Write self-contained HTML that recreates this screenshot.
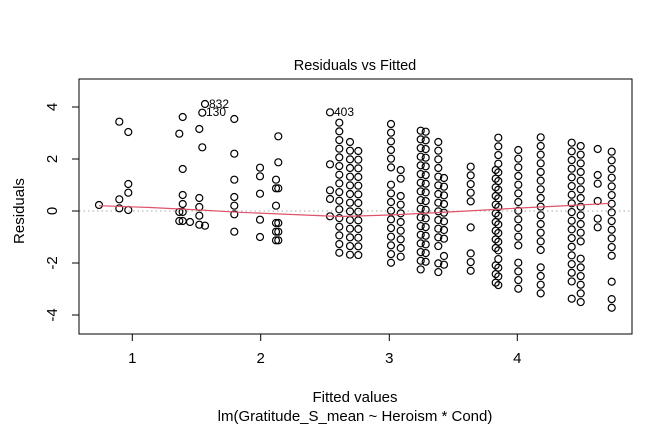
<!DOCTYPE html>
<html><head><meta charset="utf-8"><style>
html,body{margin:0;padding:0;background:#fff;}
svg{display:block;font-family:"Liberation Sans",Arial,sans-serif;}
</style></head><body>
<svg id="s" width="672" height="432" viewBox="0 0 672 432" xmlns="http://www.w3.org/2000/svg">
<rect x="0" y="0" width="672" height="432" fill="#fff"/>
<line x1="79" y1="211" x2="632" y2="211" stroke="#aaa" stroke-width="1" stroke-dasharray="1.5,3"/>
<g id="pts" fill="none" stroke="#000" stroke-width="1.2"></g>
<polyline fill="none" stroke="#df536b" stroke-width="1.2" points="99,205.7 150,207.5 200,210 240,212.3 280,214 340,216.5 390,215 430,213 467,211 520,208 570,205.5 610,203.3"/>
<rect x="79" y="79" width="553" height="255" fill="none" stroke="#000" stroke-width="1"/>
<g stroke="#000" stroke-width="1">
<line x1="132.3" y1="334" x2="132.3" y2="341"/><line x1="260.7" y1="334" x2="260.7" y2="341"/>
<line x1="389.3" y1="334" x2="389.3" y2="341"/><line x1="517.3" y1="334" x2="517.3" y2="341"/>
<line x1="79" y1="107" x2="72" y2="107"/><line x1="79" y1="159" x2="72" y2="159"/>
<line x1="79" y1="211" x2="72" y2="211"/><line x1="79" y1="263" x2="72" y2="263"/>
<line x1="79" y1="315" x2="72" y2="315"/>
</g>
<g font-size="15" text-anchor="middle" fill="#000">
<text x="132.3" y="363">1</text><text x="260.7" y="363">2</text>
<text x="389.3" y="363">3</text><text x="517.3" y="363">4</text>
<text transform="translate(57,107) rotate(-90)">4</text>
<text transform="translate(57,159) rotate(-90)">2</text>
<text transform="translate(57,211) rotate(-90)">0</text>
<text transform="translate(57,263) rotate(-90)">-2</text>
<text transform="translate(57,315) rotate(-90)">-4</text>
<text x="355" y="402">Fitted values</text>
<text x="355" y="421">lm(Gratitude_S_mean ~ Heroism * Cond)</text>
<text transform="translate(24,211) rotate(-90)">Residuals</text>
<text x="355" y="70" font-size="14.5">Residuals vs Fitted</text>
</g>
<g font-size="12" fill="#000">
<text x="209" y="108">832</text><text x="206" y="116">130</text><text x="334" y="116">403</text>
</g>
</svg>
<script>
var g=document.getElementById('pts');
function c(x,y){var e=document.createElementNS('http://www.w3.org/2000/svg','circle');e.setAttribute('cx',x);e.setAttribute('cy',y);e.setAttribute('r',3.5);g.appendChild(e);}
var cols=[
[99,[205]],
[119.3,[121.7,199.3,208.3]],
[128.3,[132,184,192.7,210]],
[179.3,[133.7,212,221]],
[182.7,[117,169,195,204,212,221]],
[190,[222]],
[199.3,[129,198,207,215.7,224.7]],
[202.3,[112.7,147.3]],
[205,[104,225.7]],
[234.3,[119,153.7,179.7,197,205.7,214.3,231.7]],
[260,[167.7,176.3,193.7,219.7,237]],
[276,[179.7,188.3,205.7,223,231.7,240.3]],
[278.3,[136.3,162.3,188.3,223,231.7,240.3]],
[330,[112.3,164.3,190.3,199,216.3]]
];
cols.forEach(function(k){k[1].forEach(function(y){c(k[0],y);});});
function rng(x,a,b,skip){for(var y=a;y<=b+0.1;y+=8.67){var s=false;(skip||[]).forEach(function(r){if(y>r[0]&&y<r[1])s=true;});if(!s)c(x,y);}}
rng(339.3,122.7,253.3);
rng(350,142,256);
rng(358.3,151,257);
rng(391,124,264,[[170,178]]);
rng(400.7,170,265,[[180,195]]);
rng(420.7,130.7,270);
rng(425.7,131.7,270);
rng(438.3,142,273,[[248,262]]);
rng(444,178,273,[[240,255]]);
rng(470.7,166.7,279.3,[[210,226],[236,252]]);
rng(495.7,170,285,[[252,265]]);
rng(498.3,137.7,285);
rng(518.3,150,290,[[252,262]]);
rng(540.7,137.3,293.3,[[255,266]]);
rng(571.7,142.7,300.7,[[285,295]]);
rng(580.7,146,302,[[245,255]]);
[149,175,183.7,201,218.7,227.3].forEach(function(y){c(597.7,y);});
rng(611.7,151.7,308.3,[[262,276],[283,296]]);
</script>
</body></html>
